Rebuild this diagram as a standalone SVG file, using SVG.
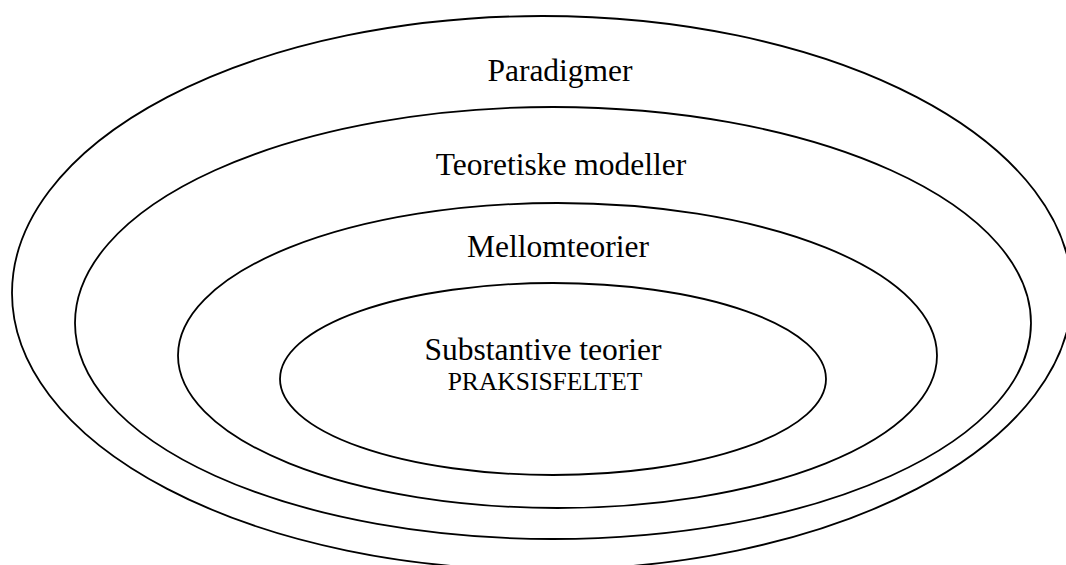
<svg xmlns="http://www.w3.org/2000/svg" width="1066" height="565" viewBox="0 0 1066 565">
<style>
.ring{fill:none;stroke:#000;stroke-width:1.8}
.lbl{font-family:"Liberation Serif","Times New Roman",serif;font-size:31.5px;fill:#000;text-anchor:middle}
.sub{font-size:25.5px}
</style>
<rect width="1066" height="565" fill="#fff"/>
<g id="paradigmer">
<ellipse class="ring" cx="542" cy="293" rx="530" ry="277"/>
<text class="lbl" x="560" y="81">Paradigmer</text>
</g>
<g id="teoretiske-modeller">
<ellipse class="ring" cx="553" cy="323" rx="478" ry="216"/>
<text class="lbl" x="561" y="175">Teoretiske modeller</text>
</g>
<g id="mellomteorier">
<ellipse class="ring" cx="557.5" cy="355.5" rx="379.5" ry="152.5"/>
<text class="lbl" x="558" y="257">Mellomteorier</text>
</g>
<g id="substantive-teorier">
<ellipse class="ring" cx="553" cy="379" rx="273" ry="96"/>
<text class="lbl" x="543" y="360">Substantive teorier</text>
<text class="lbl sub" x="545" y="390">PRAKSISFELTET</text>
</g>
<g id="connectors"></g>
</svg>
